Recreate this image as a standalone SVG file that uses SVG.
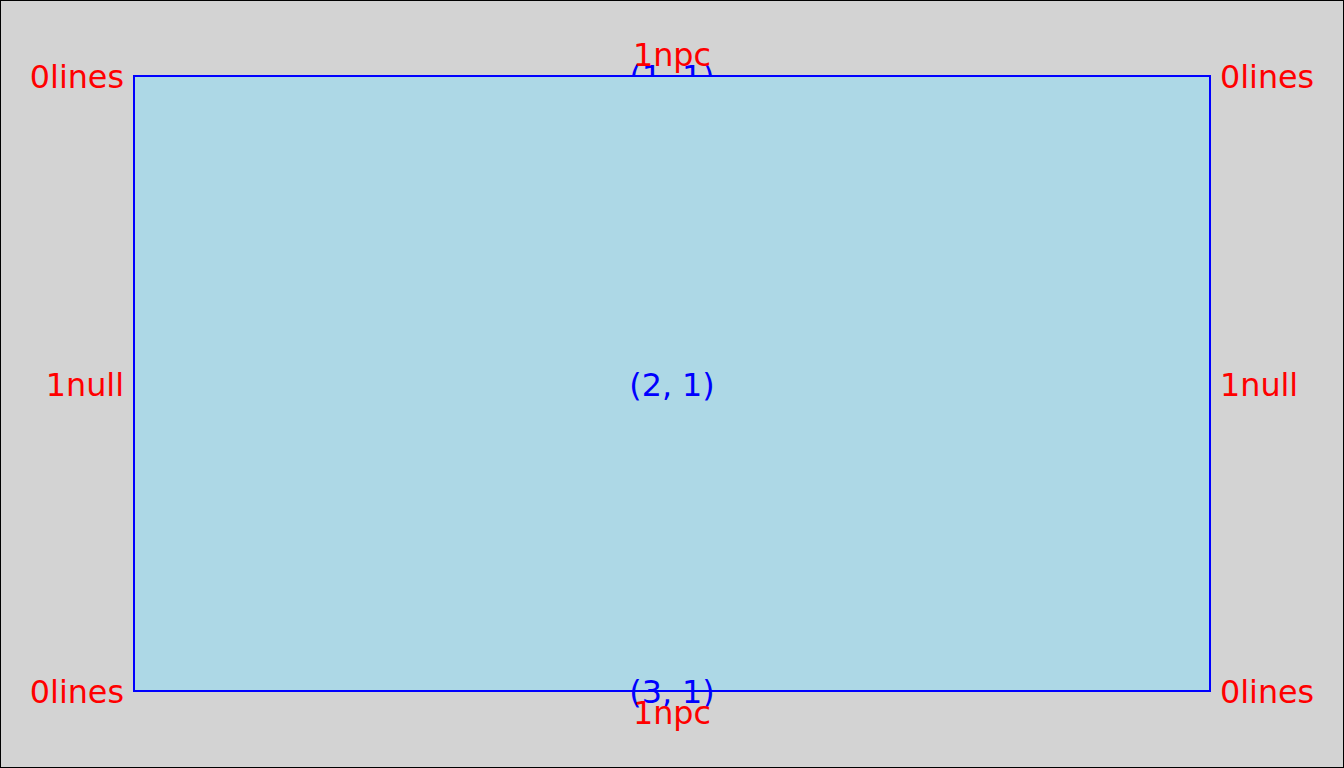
<svg xmlns="http://www.w3.org/2000/svg" width="1344" height="768" viewBox="0 0 1344 768">
<style>
text{font-family:"DejaVu Sans",sans-serif;font-size:31.8px}
.cell{fill:#0000ff;text-anchor:middle}
.lab{fill:#ff0000}
.r{text-anchor:end}
.m{text-anchor:middle}
.box{fill:#add8e6;stroke:#0000ff;stroke-width:2}
.edge{fill:none;stroke:#0000ff;stroke-width:2}
</style>
<rect x="0.5" y="0.5" width="1343" height="767" fill="#d3d3d3" stroke="#000" stroke-width="1"/>
<g id="cell11">
<line class="edge" x1="134" y1="76" x2="1210" y2="76"/>
<text class="cell" x="672" y="87.6">(1, 1)</text>
</g>
<g id="cell21">
<rect class="box" x="134" y="76" width="1076" height="615"/>
<text class="cell" x="672" y="395.6">(2, 1)</text>
</g>
<g id="cell31">
<line class="edge" x1="134" y1="691" x2="1210" y2="691"/>
<text class="cell" x="672" y="702.6">(3, 1)</text>
</g>
<g id="labels">
<text class="lab r" x="124" y="87.6">0lines</text>
<text class="lab r" x="124" y="395.6">1null</text>
<text class="lab r" x="124" y="702.6">0lines</text>
<text class="lab" x="1220" y="87.6">0lines</text>
<text class="lab" x="1220" y="395.6">1null</text>
<text class="lab" x="1220" y="702.6">0lines</text>
<text class="lab m" x="672" y="66">1npc</text>
<text class="lab m" x="672" y="724.2">1npc</text>
</g>
</svg>
